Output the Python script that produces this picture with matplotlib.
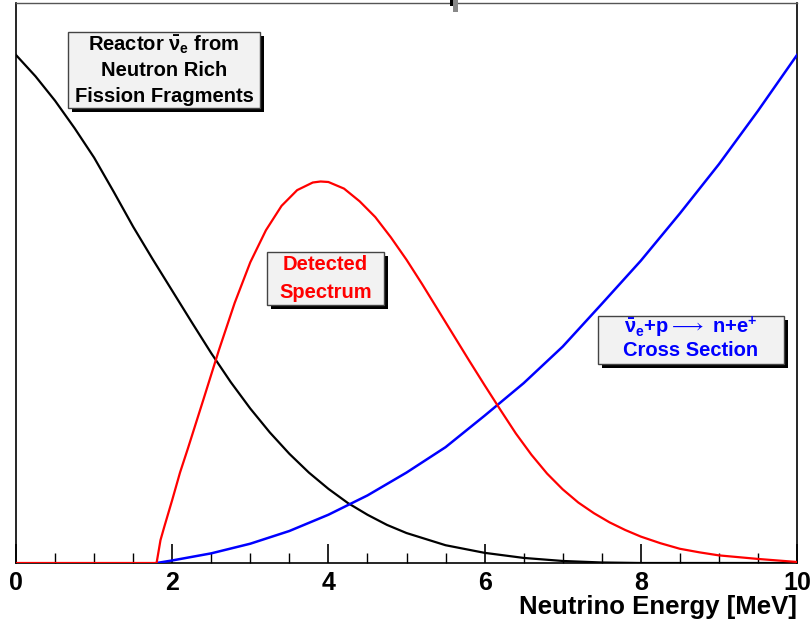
import matplotlib
matplotlib.use("Agg")
import matplotlib.pyplot as plt
from matplotlib import font_manager
from matplotlib.patches import Rectangle
from matplotlib.ticker import MultipleLocator

# ---------------- data ----------------
reactor_E = [0.0, 0.25, 0.5, 0.75, 1.0, 1.25, 1.5, 1.75, 2.0, 2.25, 2.5, 2.75,
             3.0, 3.25, 3.5, 3.75, 4.0, 4.25, 4.5, 4.75, 5.0, 5.5, 6.0, 6.5,
             7.0, 7.5, 8.0, 9.0, 10.0]
reactor_flux = [1.000, 0.958, 0.910, 0.856, 0.798, 0.731, 0.662, 0.598, 0.536,
                0.474, 0.413, 0.356, 0.304, 0.257, 0.215, 0.178, 0.146, 0.118,
                0.095, 0.075, 0.059, 0.035, 0.020, 0.010, 0.004, 0.001, 0.0,
                0.0, 0.0]

detected_E = [0.0, 1.80, 1.85, 1.90, 2.0, 2.1, 2.2, 2.4, 2.6, 2.8, 3.0, 3.2, 3.4,
              3.6, 3.8, 3.9, 4.0, 4.2, 4.4, 4.6, 4.8, 5.0, 5.2, 5.4, 5.6, 5.8,
              6.0, 6.2, 6.4, 6.6, 6.8, 7.0, 7.2, 7.4, 7.6, 7.8, 8.0, 8.25, 8.5,
              8.75, 9.0, 9.5, 10.0]
detected_rate = [0.0, 0.0, 0.045, 0.072, 0.124, 0.178, 0.225, 0.322, 0.420,
                 0.512, 0.592, 0.655, 0.703, 0.734, 0.749, 0.751, 0.750, 0.737,
                 0.712, 0.681, 0.641, 0.597, 0.549, 0.499, 0.449, 0.399, 0.350,
                 0.302, 0.255, 0.213, 0.176, 0.145, 0.119, 0.098, 0.080, 0.065,
                 0.052, 0.039, 0.028, 0.021, 0.015, 0.008, 0.002]

xsec_E = [1.80, 2.0, 2.5, 3.0, 3.5, 4.0, 4.5, 5.0, 5.5, 6.0, 6.5, 7.0, 7.5, 8.0,
          8.5, 9.0, 9.5, 10.0]
xsec = [0.0, 0.005, 0.019, 0.038, 0.063, 0.095, 0.133, 0.178, 0.228, 0.290,
        0.354, 0.426, 0.510, 0.595, 0.688, 0.785, 0.890, 1.000]

x_ticks = [0, 2, 4, 6, 8, 10]
x_label = "Neutrino Energy [MeV]"

# ---------------- fonts ----------------
def pick(names):
    for n in names:
        try:
            font_manager.findfont(font_manager.FontProperties(family=n),
                                  fallback_to_default=False)
            return n
        except Exception:
            pass
    return "DejaVu Sans"

sans = pick(["Liberation Sans", "Arial", "DejaVu Sans"])

plt.rcParams["mathtext.fontset"] = "custom"
plt.rcParams["mathtext.rm"] = f"{sans}:bold"
plt.rcParams["mathtext.it"] = f"{sans}:bold"
plt.rcParams["mathtext.bf"] = f"{sans}:bold"
plt.rcParams["mathtext.fallback"] = "stixsans"

W, H = 811, 626
fig = plt.figure(figsize=(W / 100, H / 100), dpi=100)
fig.patch.set_facecolor("white")

def fx(px):
    return px / W

def fy(py):
    return 1 - py / H

ax = fig.add_axes([fx(16), fy(563), fx(797) - fx(16), fy(3) - fy(563)])
ax.plot(reactor_E, reactor_flux, color="black", lw=1.6, zorder=3)
ax.plot(xsec_E, xsec, color="#0000ff", lw=1.8, zorder=3)
ax.plot(detected_E, detected_rate, color="#ff0000", lw=1.6, zorder=4)

ax.set_xlim(0, 10)
ax.set_ylim(0, 560 / 508)
ax.set_xticks(x_ticks)
ax.xaxis.set_minor_locator(MultipleLocator(0.5))
ax.set_yticks([])
ax.tick_params(axis="x", which="major", direction="in", length=14, width=1.2,
               pad=6, labelsize=18, top=False)
ax.tick_params(axis="x", which="minor", direction="in", length=7, width=1.0, top=False)
for lab in ax.get_xticklabels():
    lab.set_fontfamily(sans)
    lab.set_fontweight("bold")
for side in ["left", "bottom", "right"]:
    ax.spines[side].set_color("black")
    ax.spines[side].set_linewidth(1.2)
ax.spines["top"].set_color("#555555")
ax.spines["top"].set_linewidth(1.0)

fig.text(fx(797), fy(607), x_label, ha="right", va="center", fontsize=18.5,
         fontweight="bold", family=sans)

# ---------------- annotation boxes ----------------
def box(x0, y0, x1, y1, lines, ys, color):
    sh = Rectangle((fx(x0 + 4), fy(y1 + 4)), fx(x1) - fx(x0), fy(y0) - fy(y1),
                   transform=fig.transFigure, facecolor="black", edgecolor="none",
                   zorder=5)
    bx = Rectangle((fx(x0), fy(y1)), fx(x1) - fx(x0), fy(y0) - fy(y1),
                   transform=fig.transFigure, facecolor="#f2f2f2",
                   edgecolor="#444444", lw=1.0, zorder=6)
    fig.add_artist(sh)
    fig.add_artist(bx)
    cx = (x0 + x1) / 2
    for t, yy in zip(lines, ys):
        fig.text(fx(cx), fy(yy), t, ha="center", va="center", fontsize=14.5,
                 fontweight="bold", family=[sans, "DejaVu Sans"], color=color,
                 zorder=7)

box(68, 32, 260, 108,
    [r"Reactor $\bar{\nu}_{e}$ from", "Neutron Rich", "Fission Fragments"],
    [45, 71, 96], "black")
box(267, 252, 384, 305, ["Detected", "Spectrum"], [265, 292], "#ff0000")
box(598, 316, 784, 364,
    [r"$\bar{\nu}_{e}$+p$\longrightarrow$ n+e$^{+}$", "Cross Section"],
    [327, 351], "#0000ff")

# small mark at top edge
fig.add_artist(Rectangle((fx(450), fy(6)), fx(3), fy(0) - fy(6),
                         transform=fig.transFigure, facecolor="black",
                         edgecolor="none"))
fig.add_artist(Rectangle((fx(453), fy(12)), fx(5), fy(0) - fy(12),
                         transform=fig.transFigure, facecolor="#888888",
                         edgecolor="none"))

fig.savefig("out.png", dpi=100, facecolor="white")
